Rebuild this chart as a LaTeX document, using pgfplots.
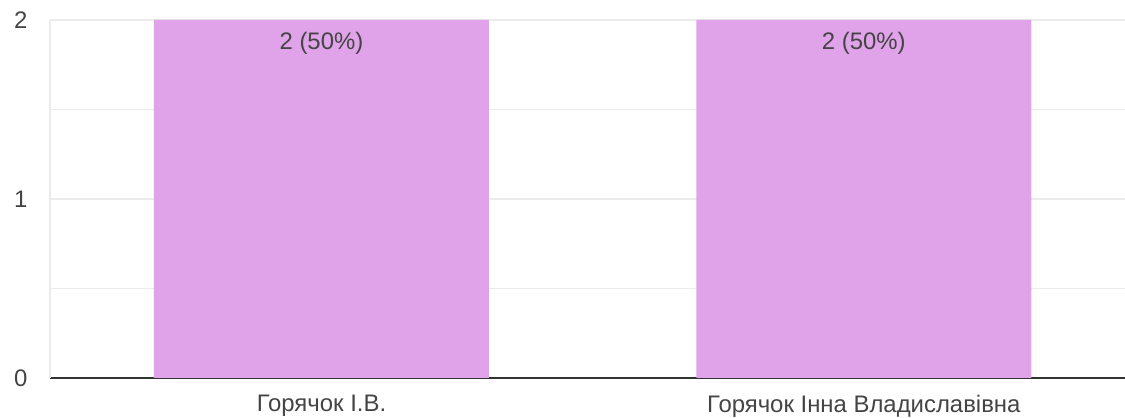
\documentclass[border=0pt]{standalone}
\usepackage{fontspec}
\setmainfont{Liberation Sans}
\usepackage{pgfplots}
\pgfplotsset{compat=1.18}
\definecolor{barpink}{HTML}{E0A3EA}
\definecolor{gridgray}{HTML}{EBEBEB}
\definecolor{txtgray}{HTML}{444444}
\definecolor{axisdark}{HTML}{333333}
\begin{document}
\begin{tikzpicture}
\path[use as bounding box] (-50bp,-40bp) rectangle (1075bp,378bp);
\begin{axis}[
  at={(0,0)}, anchor=south west,
  scale only axis, width=1075bp, height=358bp,
  xmin=-0.5005, xmax=1.4815, ymin=0, ymax=2,
  axis x line*=bottom, axis y line*=left,
  x axis line style={line width=2bp, color=axisdark, -},
  y axis line style={line width=1.5bp, color=gridgray, -},
  xtick={0,1},
  xticklabels={Горячок І.В., Горячок Інна Владиславівна},
  ytick={0,1,2}, minor ytick={0.5,1.5},
  ymajorgrids, yminorgrids,
  major grid style={line width=1.5bp, color=gridgray},
  minor grid style={line width=1.5bp, color=gridgray},
  major tick length=0pt, minor tick length=0pt,
  tick label style={font=\fontsize{24}{27}\selectfont, text=txtgray},
  /pgf/number format/assume math mode=true,
  xticklabel style={yshift=-14bp},
  yticklabel style={xshift=-19bp},
  ybar, bar width=335bp,
  nodes near coords={\pgfmathprintnumber{\pgfplotspointmeta} (50\%)},
  nodes near coords style={anchor=north, inner sep=0pt, yshift=-12bp,
    font=\fontsize{24}{27}\selectfont, text=txtgray},
]
\addplot[fill=barpink, draw=none] coordinates {(0,2) (1,2)};
\end{axis}
\end{tikzpicture}
\end{document}
